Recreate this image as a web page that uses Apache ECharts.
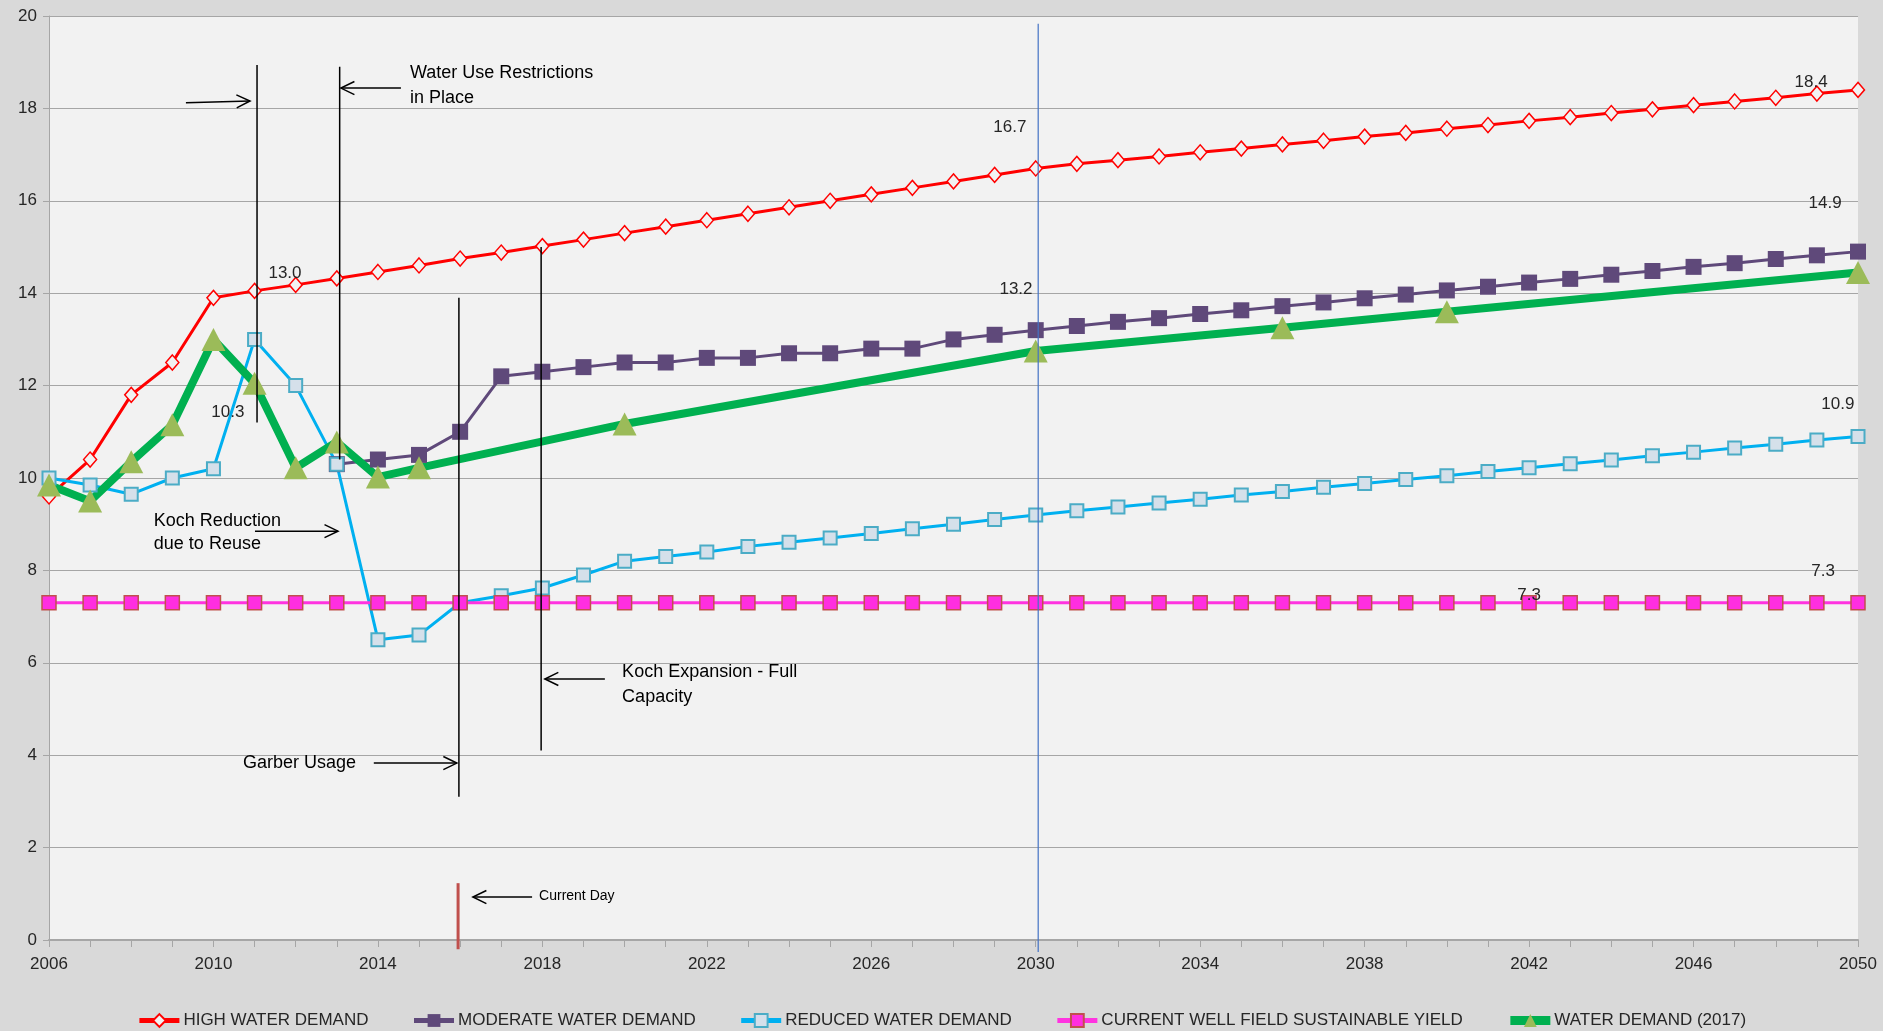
<!DOCTYPE html>
<html>
<head>
<meta charset="utf-8">
<script src="https://cdn.jsdelivr.net/npm/echarts@6/dist/echarts.min.js"></script>
<style>
html,body{margin:0;padding:0;background:#d9d9d9;}
#chart{width:1883px;height:1031px;}
</style>
</head>
<body>
<div id="chart"></div>
<script>
// ---------- data ----------
const years = [2006,2007,2008,2009,2010,2011,2012,2013,2014,2015,2016,2017,2018,2019,2020,2021,2022,2023,2024,2025,2026,2027,2028,2029,2030,2031,2032,2033,2034,2035,2036,2037,2038,2039,2040,2041,2042,2043,2044,2045,2046,2047,2048,2049,2050];

const highDemand = [9.6,10.4,11.8,12.5,13.9,14.05,14.18,14.32,14.46,14.6,14.75,14.88,15.02,15.16,15.3,15.44,15.58,15.72,15.86,16.0,16.14,16.28,16.42,16.56,16.7,16.8,16.88,16.96,17.05,17.13,17.22,17.3,17.39,17.47,17.56,17.64,17.73,17.81,17.9,17.98,18.07,18.15,18.23,18.32,18.4];

const moderateDemand = [null,null,null,null,null,null,null,10.3,10.4,10.5,11.0,12.2,12.3,12.4,12.5,12.5,12.6,12.6,12.7,12.7,12.8,12.8,13.0,13.1,13.2,13.29,13.38,13.46,13.55,13.63,13.72,13.8,13.89,13.97,14.06,14.14,14.23,14.31,14.4,14.48,14.57,14.65,14.74,14.82,14.9];

const reducedDemand = [10.0,9.85,9.65,10.0,10.2,13.0,12.0,10.3,6.5,6.6,7.3,7.45,7.62,7.9,8.2,8.3,8.4,8.52,8.61,8.7,8.8,8.9,9.0,9.1,9.2,9.29,9.37,9.46,9.54,9.63,9.71,9.8,9.88,9.97,10.05,10.14,10.22,10.31,10.39,10.48,10.56,10.65,10.73,10.82,10.9];

const wellFieldYield = [7.3,7.3,7.3,7.3,7.3,7.3,7.3,7.3,7.3,7.3,7.3,7.3,7.3,7.3,7.3,7.3,7.3,7.3,7.3,7.3,7.3,7.3,7.3,7.3,7.3,7.3,7.3,7.3,7.3,7.3,7.3,7.3,7.3,7.3,7.3,7.3,7.3,7.3,7.3,7.3,7.3,7.3,7.3,7.3,7.3];

const demand2017Years = [2006,2007,2008,2009,2010,2011,2012,2013,2014,2015,2020,2030,2036,2040,2050];
const demand2017 = [9.85,9.5,10.35,11.15,13.0,12.05,10.22,10.78,10.02,10.22,11.17,12.75,13.25,13.6,14.45];

const seriesNames = ['HIGH WATER DEMAND','MODERATE WATER DEMAND','REDUCED WATER DEMAND','CURRENT WELL FIELD SUSTAINABLE YIELD','WATER DEMAND (2017)'];

// annotations (data coordinates: year, value)
const valueLabels = [
  [2011.74,14.44,'13.0'],[2010.35,11.43,'10.3'],[2029.37,17.6,'16.7'],[2029.52,14.09,'13.2'],
  [2048.86,18.57,'18.4'],[2049.2,15.95,'14.9'],[2049.51,11.6,'10.9'],[2049.15,7.97,'7.3'],[2042.0,7.47,'7.3']
];
const noteTexts = [
  [2014.78,18.77,'Water Use Restrictions'],[2014.78,18.23,'in Place'],
  [2008.55,9.07,'Koch Reduction'],[2008.55,8.57,'due to Reuse'],
  [2019.94,5.8,'Koch Expansion - Full'],[2019.94,5.26,'Capacity'],
  [2010.72,3.83,'Garber Usage']
];
const smallNotes = [[2017.92,0.95,'Current Day']];
const eventLines = [[2011.06,18.94,11.2],[2013.07,18.9,10.4],[2015.97,13.9,3.1],[2017.97,15.0,4.1]];
const yearLine2030 = [[2030.06,19.83,-0.26]];
const currentDayLine = [[2015.95,1.23,-0.2]];
const arrowLines = [
  [2009.33,18.12,2010.89,18.16],[2014.56,18.44,2013.1,18.44],[2011.01,8.85,2013.03,8.85],
  [2019.52,5.65,2018.06,5.65],[2013.9,3.83,2015.92,3.83],[2017.75,0.93,2016.31,0.93]
];

// ---------- chart ----------
const FONT = '"Liberation Sans", Arial, sans-serif';
const zip = (xs, ys) => xs.map((x, i) => [x, ys[i]]);

function vlineSeries(list, color, width) {
  return {
    type: 'custom', silent: true, clip: false, z: 6,
    data: list.map(d => [d[0], d[1]]),
    renderItem: (params, api) => {
      const d = list[params.dataIndex];
      const a = api.coord([d[0], d[1]]), b = api.coord([d[0], d[2]]);
      return {type: 'line', shape: {x1: a[0], y1: a[1], x2: b[0], y2: b[1]},
              style: {stroke: color, lineWidth: width}};
    }
  };
}
function textSeries(list, fontSize, align, color) {
  return {
    type: 'custom', silent: true, clip: false, z: 7,
    data: list.map(d => [d[0], d[1]]),
    renderItem: (params, api) => {
      const d = list[params.dataIndex];
      const p = api.coord([d[0], d[1]]);
      return {type: 'text', x: p[0], y: p[1],
              style: {text: d[2], fill: color, font: fontSize + 'px ' + FONT,
                      textAlign: align, textVerticalAlign: 'middle'}};
    }
  };
}
const arrowSeries = {
  type: 'custom', silent: true, clip: false, z: 6,
  data: arrowLines.map(d => [d[0], d[1]]),
  renderItem: (params, api) => {
    const d = arrowLines[params.dataIndex];
    const a = api.coord([d[0], d[1]]), b = api.coord([d[2], d[3]]);
    const ang = Math.atan2(b[1] - a[1], b[0] - a[0]);
    const L = 15, W = 0.45;
    const p1 = [b[0] - L * Math.cos(ang - W), b[1] - L * Math.sin(ang - W)];
    const p2 = [b[0] - L * Math.cos(ang + W), b[1] - L * Math.sin(ang + W)];
    return {type: 'group', children: [
      {type: 'line', shape: {x1: a[0], y1: a[1], x2: b[0], y2: b[1]}, style: {stroke: '#000', lineWidth: 1.5}},
      {type: 'polyline', shape: {points: [p1, b, p2]}, style: {stroke: '#000', lineWidth: 1.5, fill: null}}
    ]};
  }
};

const chart = echarts.init(document.getElementById('chart'), null, {renderer: 'canvas'});
chart.setOption({
  animation: false,
  backgroundColor: '#d9d9d9',
  textStyle: {fontFamily: FONT},
  grid: {left: 49, right: 25, top: 16, bottom: 91, show: true, backgroundColor: '#f2f2f2', borderWidth: 0},
  legend: {
    data: [
      {name: seriesNames[0]}, {name: seriesNames[1]}, {name: seriesNames[2]}, {name: seriesNames[3]},
      {name: seriesNames[4], lineStyle: {width: 9}}
    ],
    top: 1012, left: 'center', padding: 0, itemWidth: 40, itemHeight: 16, itemGap: 43,
    lineStyle: {width: 5},
    textStyle: {fontSize: 17, color: '#262626', fontFamily: FONT, padding: [0, 0, 0, -1]}
  },
  xAxis: {
    type: 'value', min: 2006, max: 2050, interval: 4,
    axisLine: {show: true, onZero: false, lineStyle: {color: '#a6a6a6', width: 2}},
    axisTick: {show: true, length: 7, lineStyle: {color: '#a6a6a6'}},
    minorTick: {show: true, splitNumber: 4, length: 7, lineStyle: {color: '#a6a6a6'}},
    splitLine: {show: false},
    axisLabel: {fontSize: 17, color: '#262626', margin: 16, formatter: v => String(v)}
  },
  yAxis: {
    type: 'value', min: 0, max: 20, interval: 2,
    axisLine: {show: true, lineStyle: {color: '#a6a6a6', width: 1}},
    axisTick: {show: true, length: 6, lineStyle: {color: '#a6a6a6'}},
    splitLine: {show: true, lineStyle: {color: '#a6a6a6', width: 1.2}},
    axisLabel: {fontSize: 17, color: '#262626', margin: 12}
  },
  series: [
    {
      name: seriesNames[0], type: 'line', data: zip(years, highDemand),
      symbol: 'diamond', symbolSize: [13, 15],
      lineStyle: {color: '#ff0000', width: 3},
      itemStyle: {color: '#f2f2f2', borderColor: '#ff0000', borderWidth: 1.5}
    },
    {
      name: seriesNames[1], type: 'line', data: zip(years, moderateDemand),
      symbol: 'rect', symbolSize: 16,
      lineStyle: {color: '#5f497a', width: 3},
      itemStyle: {color: '#5f497a'}
    },
    {
      name: seriesNames[2], type: 'line', data: zip(years, reducedDemand),
      symbol: 'rect', symbolSize: 13,
      lineStyle: {color: '#00b0f0', width: 3},
      itemStyle: {color: '#d5e0ea', borderColor: '#4bacc6', borderWidth: 2}
    },
    {
      name: seriesNames[3], type: 'line', data: zip(years, wellFieldYield),
      symbol: 'rect', symbolSize: 14,
      lineStyle: {color: '#ff33e0', width: 3},
      itemStyle: {color: '#ff2ee0', borderColor: '#c0504d', borderWidth: 1.5}
    },
    {
      name: seriesNames[4], type: 'line', data: zip(demand2017Years, demand2017),
      symbol: 'triangle', symbolSize: [24, 23],
      lineStyle: {color: '#00b050', width: 8},
      itemStyle: {color: '#9bbb59'}
    },
    vlineSeries(eventLines, '#000000', 1.5),
    vlineSeries(yearLine2030, '#4472c4', 1.2),
    vlineSeries(currentDayLine, '#c0504d', 3),
    arrowSeries,
    textSeries(valueLabels, 17, 'center', '#262626'),
    textSeries(noteTexts, 18, 'left', '#000000'),
    textSeries(smallNotes, 14, 'left', '#000000')
  ]
});
</script>
</body>
</html>
